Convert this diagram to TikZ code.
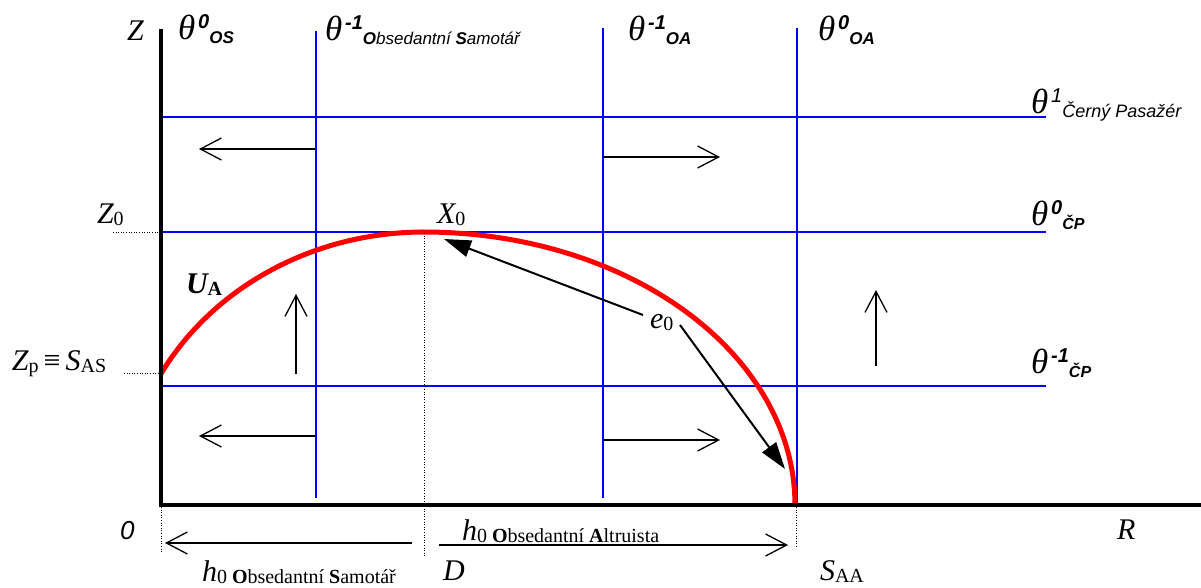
\documentclass[tikz,border=0pt]{standalone}
\usepackage{fontspec}
\setmainfont{Liberation Serif}
\setsansfont{Liberation Sans}
\usetikzlibrary{arrows.meta}
\definecolor{lineblue}{RGB}{0,0,255}
\definecolor{arcred}{RGB}{255,0,0}
\newcommand{\thlab}[3]{{\fontsize{35}{35}\selectfont\itshape θ}\kern3pt\raisebox{11pt}{\fontsize{20}{20}\selectfont\sffamily\itshape #1}\raisebox{-4pt}{\fontsize{#3}{#3}\selectfont\sffamily\itshape #2}}
\newcommand{\sbs}[1]{\raisebox{-2pt}{\fontsize{20}{20}\selectfont\upshape #1}}
\begin{document}
\begin{tikzpicture}[x=1pt,y=-1pt,
  axisline/.style={line width=3.5pt, black, line join=miter},
  blueline/.style={lineblue, line width=1.3pt},
  redarc/.style={arcred, line width=5pt},
  dotl/.style={black, line width=0.9pt, dash pattern=on 1pt off 1.6pt},
  flow/.style={black, line width=1.3pt, -{Straight Barb[length=21pt,width=22pt]}},
  vecarrow/.style={black, line width=2pt, -{Triangle[length=27pt,width=17pt]}},
  lab/.style={anchor=base west, inner sep=0pt, outer sep=0pt},
  mathlab/.style={lab, font=\fontsize{30}{30}\selectfont\itshape}]
\useasboundingbox (0,0) rectangle (1201,587);
% blue grid
\coordinate (v1t) at (316,31); \coordinate (v1b) at (316,498);
\coordinate (v2t) at (603,28); \coordinate (v2b) at (603,498);
\coordinate (v3t) at (797,28); \coordinate (v3b) at (797,503);
\coordinate (h1l) at (161,117); \coordinate (h1r) at (1046,117);
\coordinate (h2l) at (161,232); \coordinate (h2r) at (1046,232);
\coordinate (h3l) at (161,386); \coordinate (h3r) at (1046,386);
\draw[blueline] (v1t) -- (v1b);
\draw[blueline] (v2t) -- (v2b);
\draw[blueline] (v3t) -- (v3b);
\draw[blueline] (h1l) -- (h1r);
\draw[blueline] (h2l) -- (h2r);
\draw[blueline] (h3l) -- (h3r);
% red curve U_A
\draw[redarc] plot[domain=208.7:270, samples=60, smooth] ({424+300*cos(\x)},{505+273*sin(\x)})
  -- plot[domain=270:360, samples=80, smooth] ({424+371*cos(\x)},{505+273*sin(\x)});
% axes
\coordinate (ztop) at (161,29);
\coordinate (orig) at (161,505);
\coordinate (rend) at (1201,505);
\draw[axisline] (ztop) -- (orig) -- (rend);
% dotted guides
\coordinate (z0a) at (113,232); \coordinate (z0b) at (161,232);
\coordinate (zpa) at (124,373); \coordinate (zpb) at (161,373);
\coordinate (da) at (424,233); \coordinate (db) at (424,557);
\coordinate (oa) at (161,507); \coordinate (ob) at (161,553);
\coordinate (sa) at (796,507); \coordinate (sb) at (796,548);
\draw[dotl] (z0a) -- (z0b);
\draw[dotl] (zpa) -- (zpb);
\draw[dotl] (da) -- (db);
\draw[dotl] (oa) -- (ob);
\draw[dotl] (sa) -- (sb);
% flow arrows
\coordinate (a1s) at (315,149); \coordinate (a1e) at (199,149);
\coordinate (a2s) at (603,157); \coordinate (a2e) at (720,157);
\coordinate (a3s) at (315,436); \coordinate (a3e) at (199,436);
\coordinate (a4s) at (603,440); \coordinate (a4e) at (720,440);
\coordinate (a5s) at (296,374); \coordinate (a5e) at (296,294);
\coordinate (a6s) at (876,366); \coordinate (a6e) at (876,290);
\coordinate (a7s) at (412,543); \coordinate (a7e) at (165,543);
\coordinate (a8s) at (439,545); \coordinate (a8e) at (788,545);
\draw[flow] (a1s) -- (a1e);
\draw[flow] (a2s) -- (a2e);
\draw[flow] (a3s) -- (a3e);
\draw[flow] (a4s) -- (a4e);
\draw[flow] (a5s) -- (a5e);
\draw[flow] (a6s) -- (a6e);
\draw[flow] (a7s) -- (a7e);
\draw[flow] (a8s) -- (a8e);
% e0 vectors
\coordinate (e1s) at (643,315); \coordinate (e1e) at (444,239);
\coordinate (e2s) at (680,325); \coordinate (e2e) at (785,469);
\draw[vecarrow] (e1s) -- (e1e);
\draw[vecarrow] (e2s) -- (e2e);
% theta labels
\node[lab] (tos) at (178,39) {\thlab{\bfseries 0}{\bfseries OS}{17}};
\node[lab] (tosm) at (325,40) {\thlab{\bfseries -1}{\textbf{O}bsedantní \textbf{S}amotář}{17}};
\node[lab] (toam) at (628,40) {\thlab{\bfseries -1}{\bfseries OA}{17}};
\node[lab] (toa) at (818,40) {\thlab{\bfseries 0}{\bfseries OA}{17}};
\node[lab] (tcp1) at (1031,113) {\thlab{1}{Černý Pasažér}{18}};
\node[lab] (tcp0) at (1031,225) {\thlab{\bfseries 0}{\bfseries ČP}{16}};
\node[lab] (tcpm) at (1031,373) {\thlab{\bfseries -1}{\bfseries ČP}{16}};
% math labels
\node[mathlab] (zl) at (127,40) {Z};
\node[mathlab] (z0l) at (97,223) {Z\sbs{0}};
\node[mathlab] (zpl) at (12,370) {Z\sbs{p}\,\upshape ≡\,\itshape S\sbs{AS}};
\node[lab, font=\fontsize{30}{30}\selectfont\bfseries\itshape] (ual) at (186,293) {U\raisebox{-2pt}{\fontsize{20}{20}\selectfont\upshape\bfseries A}};
\node[mathlab] (x0l) at (437,223) {X\sbs{0}};
\node[mathlab] (e0l) at (650,328) {e\sbs{0}};
\node[lab, font=\fontsize{26}{26}\selectfont\sffamily\itshape] (orl) at (120,539) {0};
\node[mathlab] (rl) at (1117,539) {R};
\node[mathlab] (dl) at (443,580) {D};
\node[mathlab] (sal) at (820,580) {S\sbs{AA}};
\node[mathlab] (hosl) at (202,581) {h\sbs{0 \textbf{O}bsedantní \textbf{S}amotář}};
\node[mathlab] (hoal) at (462,540) {h\sbs{0 \textbf{O}bsedantní \textbf{A}ltruista}};
\end{tikzpicture}
\end{document}
